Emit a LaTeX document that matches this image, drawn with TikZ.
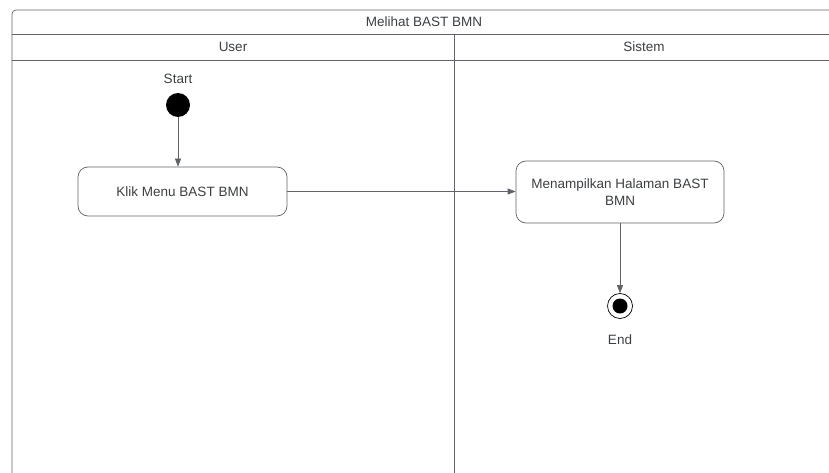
\documentclass[tikz,border=0pt]{standalone}
\usepackage{fontspec}
\setmainfont{Liberation Sans}
\usetikzlibrary{arrows.meta,positioning}

\definecolor{linegray}{HTML}{5F6368}
\definecolor{textgray}{HTML}{3C4043}

\tikzset{
  lane/.style={draw=linegray, line width=0.7pt},
  header/.style={font=\fontsize{13.5}{16}\selectfont, text=textgray},
  activity/.style={draw=linegray, line width=0.7pt, rounded corners=10pt,
    fill=white, align=center, text=textgray,
    font=\fontsize{13.5}{16.5}\selectfont, inner sep=0pt},
  label/.style={text=textgray, font=\fontsize{13.5}{16.5}\selectfont},
  flow/.style={draw=linegray, line width=0.7pt,
    -{Triangle[length=8pt,width=6pt]}},
}

\begin{document}
\begin{tikzpicture}[x=1pt,y=-1pt]
    \useasboundingbox (0,0) rectangle (829,473);
    % swimlanes
    \draw[lane, rounded corners=4pt] (12,473) -- (12,10) -- (829,10);
    \draw[lane] (12,34) -- (829,34);
    \draw[lane] (12,60) -- (829,60);
    \draw[lane] (454,34) -- (454,473);
    \node[header] (title) at (424,22) {Melihat BAST BMN};
    \node[header] (user) at (233,47) {User};
    \node[header] (sistem) at (644,47) {Sistem};

    % user lane
    \node[label] (startlbl) at (178,79) {Start};
    \node[circle, fill=black, minimum size=24pt, inner sep=0pt] (start) at (178,105) {};
    \node[activity, minimum width=209pt, minimum height=49pt] (klik) at (182.5,191.5) {Klik Menu BAST BMN};

    % system lane
    \node[activity, minimum width=208pt, minimum height=62pt] (tampil) at (620,192) {Menampilkan Halaman BAST\\BMN};
    \node[circle, draw=black, line width=0.7pt, minimum size=25pt, inner sep=0pt] (end) at (620,306) {};
    \node[circle, fill=black, minimum size=15pt, inner sep=0pt] (endcore) at (end) {};
    \node[label] (endlbl) at (620,340) {End};

    \draw[flow] (start) -- (start |- klik.north);
    \draw[flow] (klik.east) -- (tampil.west |- klik.east);
    \draw[flow] (tampil) -- (end.north);
\end{tikzpicture}
\end{document}
